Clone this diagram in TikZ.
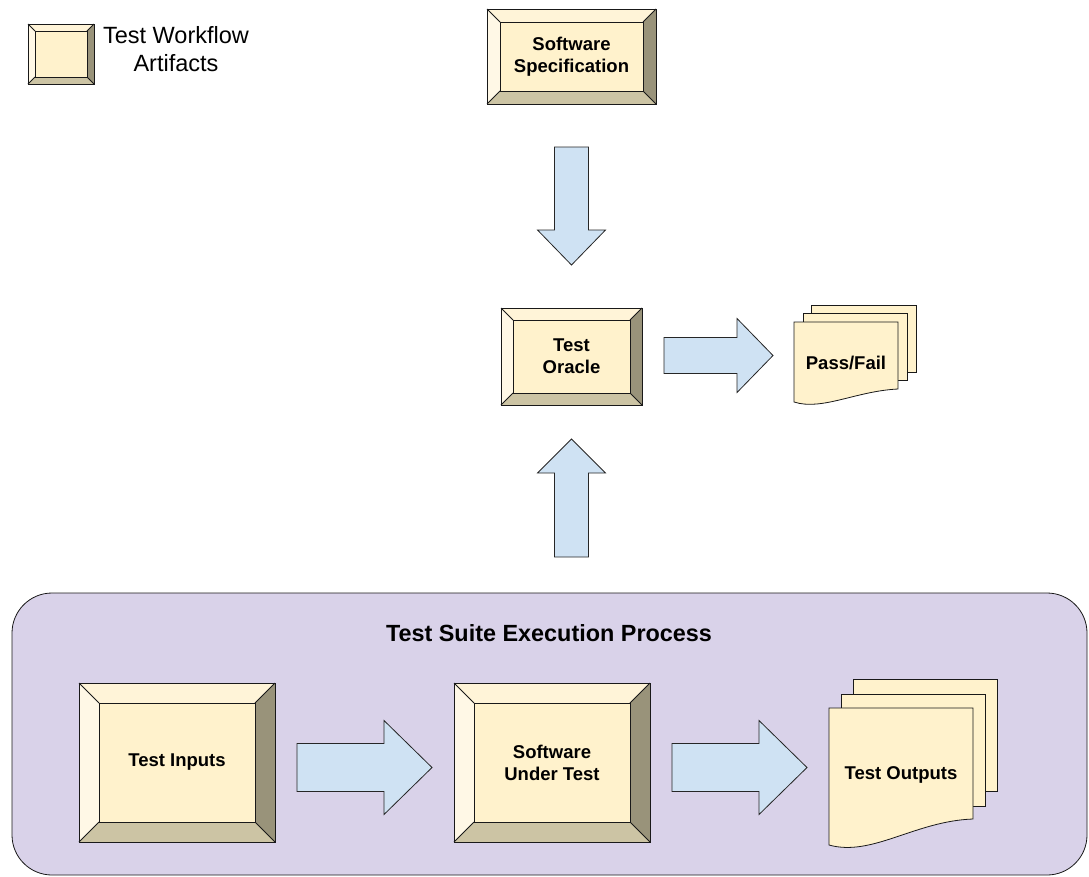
\documentclass[tikz,border=0pt]{standalone}
\usepackage{fontspec}
\setmainfont{Liberation Sans}
\usetikzlibrary{calc}

\definecolor{face}{HTML}{FFF2CC}
\definecolor{bevtopc}{HTML}{FFF4D8}
\definecolor{bevleftc}{HTML}{FFF8E6}
\definecolor{bevrightc}{HTML}{99937A}
\definecolor{bevbotc}{HTML}{CCC4A4}
\definecolor{arrowfill}{HTML}{CFE2F3}
\definecolor{suitefill}{HTML}{D9D2E9}

\tikzset{
  edge/.style={draw=black!90, line width=0.8pt, line join=miter},
  lbl/.style={font=\bfseries\fontsize{18.5}{22}\selectfont, align=center, inner sep=0pt},
  boxcore/.style={rectangle, inner sep=0pt, outer sep=0pt, draw=none},
  sheet/.style={rectangle, inner sep=0pt, outer sep=0pt, fill=face, draw=black!90, line width=0.8pt},
  docline/.style={fill=face, draw=black!90, line width=0.8pt, line join=miter},
  arrowbody/.style={fill=arrowfill, draw=black!85, line width=0.8pt, line join=miter},
  suitebox/.style={rectangle, rounded corners=40pt, fill=suitefill, draw=black!90, line width=0.8pt, inner sep=0pt},
  % block arrow: length, shaft half-width, head half-width, head length
  pics/blockarrow/.style n args={4}{code={
    \draw[arrowbody] (0,{-(#2)}) -- ({(#1)-(#4)},{-(#2)}) -- ({(#1)-(#4)},{-(#3)})
      -- (#1,0) -- ({(#1)-(#4)},#3) -- ({(#1)-(#4)},#2) -- (0,#2) -- cycle;
  }},
}

% bevelled box: name, left, top, right, bottom, bevel width, label
\newcommand\bevelbox[7]{%
  \node[boxcore, minimum width={(#4)-(#2)}, minimum height={(#5)-(#3)}] (#1)
    at ({((#2)+(#4))/2},{((#3)+(#5))/2}) {};
  \path (#1.north west) ++(#6,#6) coordinate (#1-nw)
        (#1.north east) ++(-#6,#6) coordinate (#1-ne)
        (#1.south east) ++(-#6,-#6) coordinate (#1-se)
        (#1.south west) ++(#6,-#6) coordinate (#1-sw);
  \fill[bevtopc] (#1.north west) -- (#1.north east) -- (#1-ne) -- (#1-nw) -- cycle;
  \fill[bevleftc] (#1.north west) -- (#1-nw) -- (#1-sw) -- (#1.south west) -- cycle;
  \fill[bevrightc] (#1.north east) -- (#1.south east) -- (#1-se) -- (#1-ne) -- cycle;
  \fill[bevbotc] (#1.south west) -- (#1-sw) -- (#1-se) -- (#1.south east) -- cycle;
  \draw[edge, fill=face] (#1-nw) rectangle (#1-se);
  \draw[edge] (#1.north west) -- (#1-nw) (#1.north east) -- (#1-ne)
              (#1.south east) -- (#1-se) (#1.south west) -- (#1-sw);
  \draw[edge] (#1.north west) rectangle (#1.south east);
  \node[lbl] (#1-label) at (#1) {#7};
}

\begin{document}
\begin{tikzpicture}[x=1pt, y=-1pt]
  \useasboundingbox (0,0) rectangle (1089,876);

  % execution process container
  \node[suitebox, minimum width=1075, minimum height=282] (suite) at (549.5,734) {};
  \node[font=\bfseries\fontsize{23.4}{28}\selectfont, inner sep=0pt] (suite-title)
    at (549,633) {Test Suite Execution Process};

  % legend
  \bevelbox{legend}{28}{24}{94}{84}{7}{}
  \node[font=\fontsize{23.5}{28}\selectfont, align=center, inner sep=0pt] (legend-text)
    at (176,49) {Test Workflow\\Artifacts};

  % artifacts
  \bevelbox{spec}{487}{9}{656}{104}{13}{Software\\Specification}
  \bevelbox{oracle}{501}{308}{642}{405}{12}{Test\\Oracle}
  \bevelbox{inputs}{79}{683}{275}{842}{20}{Test Inputs}
  \bevelbox{sut}{454}{683}{650}{842}{20}{Software\\Under Test}

  % pass/fail document stack
  \node[sheet, minimum width=105, minimum height=67] (pf-back) at (863.5,338.5) {};
  \node[sheet, minimum width=104, minimum height=67] (pf-mid) at (855,346.5) {};
  \draw[docline] (794,322) -- (898,322) -- (898,389)
    .. controls (856,391) and (822,411) .. (794,402) -- cycle;
  \node[lbl] (passfail) at (846,363) {Pass/Fail};

  % test outputs document stack
  \node[sheet, minimum width=144, minimum height=112] (out-back) at (925,735) {};
  \node[sheet, minimum width=144, minimum height=112] (out-mid) at (913,750) {};
  \draw[docline] (829,708) -- (973,708) -- (973,819)
    .. controls (915,821) and (872,857) .. (829,845) -- cycle;
  \node[lbl] (outputs) at (901,775) {Test Outputs};

  % flow arrows
  \pic[rotate=-90] at ($(spec.south)+(0,43)$) {blockarrow={118}{17}{34}{35}};
  \pic[rotate=90] at ($(oracle.south)+(0,152)$) {blockarrow={118}{17}{34}{34}};
  \pic at ($(oracle.east)+(22,-1)$) {blockarrow={109}{18}{37}{36}};
  \pic at ($(inputs.east)+(22,5)$) {blockarrow={135}{24}{47}{48}};
  \pic at ($(sut.east)+(22,5)$) {blockarrow={135}{24}{47}{48}};
\end{tikzpicture}
\end{document}
